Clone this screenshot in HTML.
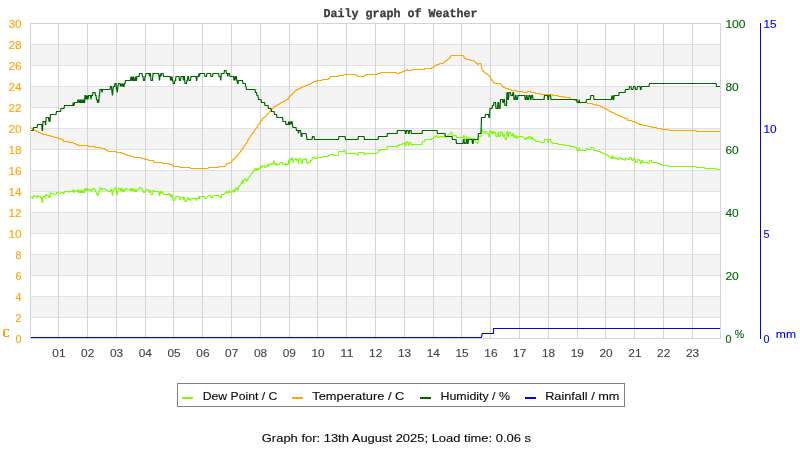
<!DOCTYPE html>
<html><head><meta charset="utf-8"><title>Daily graph of Weather</title>
<style>html,body{margin:0;padding:0;background:#fff;}svg{display:block;will-change:transform;}</style></head>
<body>
<svg width="800" height="450" viewBox="0 0 800 450">
<rect x="0" y="0" width="800" height="450" fill="#fff"/>
<g shape-rendering="crispEdges">
<rect x="30" y="44" width="690" height="21" fill="#f4f4f4"/>
<rect x="30" y="86" width="690" height="21" fill="#f4f4f4"/>
<rect x="30" y="128" width="690" height="21" fill="#f4f4f4"/>
<rect x="30" y="170" width="690" height="21" fill="#f4f4f4"/>
<rect x="30" y="212" width="690" height="21" fill="#f4f4f4"/>
<rect x="30" y="254" width="690" height="21" fill="#f4f4f4"/>
<rect x="30" y="296" width="690" height="21" fill="#f4f4f4"/>
<rect x="30" y="44" width="691" height="1" fill="#e1e1e1"/>
<rect x="30" y="65" width="691" height="1" fill="#e1e1e1"/>
<rect x="30" y="86" width="691" height="1" fill="#e1e1e1"/>
<rect x="30" y="107" width="691" height="1" fill="#e1e1e1"/>
<rect x="30" y="128" width="691" height="1" fill="#e1e1e1"/>
<rect x="30" y="149" width="691" height="1" fill="#e1e1e1"/>
<rect x="30" y="170" width="691" height="1" fill="#e1e1e1"/>
<rect x="30" y="191" width="691" height="1" fill="#e1e1e1"/>
<rect x="30" y="212" width="691" height="1" fill="#e1e1e1"/>
<rect x="30" y="233" width="691" height="1" fill="#e1e1e1"/>
<rect x="30" y="254" width="691" height="1" fill="#e1e1e1"/>
<rect x="30" y="275" width="691" height="1" fill="#e1e1e1"/>
<rect x="30" y="296" width="691" height="1" fill="#e1e1e1"/>
<rect x="30" y="317" width="691" height="1" fill="#e1e1e1"/>
<rect x="58" y="23" width="1" height="316" fill="#d4d4d4"/>
<rect x="87" y="23" width="1" height="316" fill="#d4d4d4"/>
<rect x="116" y="23" width="1" height="316" fill="#d4d4d4"/>
<rect x="145" y="23" width="1" height="316" fill="#d4d4d4"/>
<rect x="173" y="23" width="1" height="316" fill="#d4d4d4"/>
<rect x="202" y="23" width="1" height="316" fill="#d4d4d4"/>
<rect x="231" y="23" width="1" height="316" fill="#d4d4d4"/>
<rect x="260" y="23" width="1" height="316" fill="#d4d4d4"/>
<rect x="289" y="23" width="1" height="316" fill="#d4d4d4"/>
<rect x="317" y="23" width="1" height="316" fill="#d4d4d4"/>
<rect x="346" y="23" width="1" height="316" fill="#d4d4d4"/>
<rect x="375" y="23" width="1" height="316" fill="#d4d4d4"/>
<rect x="404" y="23" width="1" height="316" fill="#d4d4d4"/>
<rect x="433" y="23" width="1" height="316" fill="#d4d4d4"/>
<rect x="461" y="23" width="1" height="316" fill="#d4d4d4"/>
<rect x="490" y="23" width="1" height="316" fill="#d4d4d4"/>
<rect x="519" y="23" width="1" height="316" fill="#d4d4d4"/>
<rect x="548" y="23" width="1" height="316" fill="#d4d4d4"/>
<rect x="577" y="23" width="1" height="316" fill="#d4d4d4"/>
<rect x="605" y="23" width="1" height="316" fill="#d4d4d4"/>
<rect x="634" y="23" width="1" height="316" fill="#d4d4d4"/>
<rect x="663" y="23" width="1" height="316" fill="#d4d4d4"/>
<rect x="692" y="23" width="1" height="316" fill="#d4d4d4"/>
<rect x="30" y="23" width="691" height="1" fill="#d4d4d4"/>
<rect x="30" y="338" width="691" height="1" fill="#d4d4d4"/>
<rect x="30" y="23" width="1" height="316" fill="#d4d4d4"/>
<rect x="720" y="23" width="1" height="316" fill="#d4d4d4"/>
<rect x="760" y="23" width="1" height="316" fill="#0000ff"/>
</g>
<polyline points="31.0,196.5 31.5,197.5 32.5,197.5 33.0,198.5 33.5,195.5 34.0,195.5 34.5,196.5 36.0,196.5 36.5,197.5 37.0,197.5 37.5,195.5 38.0,195.5 38.5,196.5 40.0,196.5 40.5,197.5 41.5,197.5 42.0,202.5 42.5,202.5 43.0,196.5 45.0,196.5 45.5,198.5 46.0,194.5 46.5,194.5 47.0,195.5 48.5,195.5 49.0,197.5 49.5,195.5 50.0,197.5 50.5,192.5 51.0,193.5 54.0,193.5 54.5,194.5 56.0,194.5 56.5,192.5 57.5,192.5 58.0,193.5 60.5,193.5 61.0,192.5 63.0,192.5 63.5,193.5 64.0,193.5 64.5,191.5 68.5,191.5 69.0,192.5 69.5,191.5 72.5,191.5 73.0,189.5 73.5,192.5 74.0,192.5 74.5,190.5 75.5,190.5 76.0,191.5 77.5,191.5 78.0,189.5 78.5,192.5 79.0,190.5 79.5,192.5 80.0,192.5 80.5,190.5 81.0,192.5 81.5,192.5 82.0,190.5 82.5,192.5 83.0,192.5 83.5,190.5 84.0,192.5 84.5,192.5 85.0,188.5 85.5,188.5 86.0,190.5 86.5,188.5 87.0,190.5 87.5,188.5 88.0,190.5 88.5,189.5 90.5,189.5 91.0,191.5 91.5,189.5 92.5,189.5 93.0,188.5 94.5,188.5 95.0,189.5 95.5,191.5 96.0,191.5 96.5,193.5 97.0,193.5 97.5,195.5 98.0,195.5 98.5,193.5 99.0,191.5 99.5,191.5 100.0,187.5 100.5,187.5 101.0,188.5 101.5,188.5 102.0,190.5 102.5,188.5 104.5,188.5 105.0,189.5 106.0,189.5 106.5,190.5 107.5,190.5 108.0,191.5 110.0,191.5 110.5,189.5 111.5,189.5 112.0,193.5 112.5,195.5 113.0,191.5 113.5,189.5 114.5,189.5 115.0,187.5 116.0,187.5 116.5,192.5 117.0,192.5 117.5,194.5 118.0,190.5 118.5,188.5 120.0,188.5 120.5,190.5 121.0,188.5 121.5,190.5 122.0,188.5 122.5,191.5 123.0,189.5 123.5,191.5 124.0,191.5 124.5,189.5 125.0,190.5 125.5,188.5 127.0,188.5 127.5,189.5 130.0,189.5 130.5,190.5 131.0,188.5 131.5,190.5 132.0,188.5 132.5,190.5 133.0,190.5 133.5,188.5 134.0,191.5 135.0,191.5 135.5,189.5 136.0,191.5 136.5,191.5 137.0,189.5 139.0,189.5 139.5,187.5 141.0,187.5 141.5,188.5 142.0,188.5 142.5,190.5 143.0,190.5 143.5,192.5 144.5,192.5 145.0,191.5 145.5,191.5 146.0,189.5 148.0,189.5 148.5,190.5 149.0,190.5 149.5,192.5 150.0,190.5 150.5,190.5 151.0,194.5 152.5,194.5 153.0,190.5 153.5,190.5 154.0,191.5 158.5,191.5 159.0,193.5 159.5,195.5 160.0,193.5 160.5,191.5 161.0,193.5 161.5,191.5 162.0,191.5 162.5,192.5 163.0,192.5 163.5,194.5 168.0,194.5 168.5,193.5 169.0,193.5 169.5,194.5 170.0,194.5 170.5,196.5 171.0,194.5 171.5,196.5 172.0,194.5 172.5,197.5 173.0,199.5 173.5,200.5 174.5,200.5 175.0,198.5 175.5,198.5 176.0,196.5 179.0,196.5 179.5,198.5 180.0,199.5 180.5,199.5 181.0,197.5 183.0,197.5 183.5,199.5 184.0,197.5 184.5,197.5 185.0,201.5 186.5,201.5 187.0,199.5 187.5,199.5 188.0,197.5 188.5,197.5 189.0,199.5 190.0,199.5 190.5,200.5 191.0,198.5 196.0,198.5 196.5,200.5 197.0,198.5 198.5,198.5 199.0,196.5 199.5,198.5 200.0,196.5 204.5,196.5 205.0,198.5 206.5,198.5 207.0,196.5 208.0,196.5 208.5,195.5 210.5,195.5 211.0,197.5 212.5,197.5 213.0,195.5 218.5,195.5 219.0,196.5 220.5,196.5 221.0,198.5 221.5,194.5 224.0,194.5 224.5,193.5 225.0,193.5 225.5,192.5 226.0,191.5 226.5,192.5 227.0,191.5 227.5,191.5 228.0,193.5 228.5,191.5 229.0,191.5 229.5,190.5 230.0,192.5 231.5,192.5 232.0,191.5 232.5,191.5 233.0,190.5 233.5,190.5 234.0,192.5 234.5,189.5 235.0,191.5 235.5,188.5 236.0,188.5 236.5,187.5 237.0,188.5 237.5,190.5 238.0,189.5 238.5,187.5 239.0,186.5 239.5,185.5 240.0,185.5 240.5,184.5 241.0,183.5 241.5,183.5 242.0,181.5 242.5,180.5 243.0,183.5 243.5,181.5 244.0,180.5 244.5,179.5 245.0,179.5 245.5,178.5 246.0,179.5 246.5,181.5 247.0,180.5 247.5,179.5 248.0,178.5 248.5,178.5 249.0,177.5 249.5,176.5 250.0,176.5 250.5,175.5 251.0,174.5 251.5,173.5 252.0,173.5 252.5,172.5 253.0,171.5 253.5,171.5 254.0,170.5 254.5,169.5 255.0,168.5 255.5,170.5 256.0,169.5 256.5,168.5 257.0,170.5 257.5,169.5 258.0,168.5 258.5,169.5 259.0,169.5 259.5,168.5 260.0,167.5 260.5,166.5 261.0,165.5 261.5,167.5 262.0,167.5 262.5,166.5 263.0,166.5 263.5,165.5 264.5,165.5 265.0,167.5 266.0,167.5 266.5,166.5 267.0,165.5 267.5,165.5 268.0,164.5 268.5,166.5 269.0,165.5 269.5,164.5 270.0,164.5 270.5,163.5 271.0,163.5 271.5,164.5 272.0,164.5 272.5,163.5 273.0,163.5 273.5,162.5 274.0,160.5 274.5,164.5 275.5,164.5 276.0,163.5 276.5,163.5 277.0,165.5 277.5,164.5 279.0,164.5 279.5,163.5 280.5,163.5 281.0,162.5 282.5,162.5 283.0,164.5 284.5,164.5 285.0,163.5 285.5,163.5 286.0,165.5 286.5,164.5 288.0,164.5 288.5,160.5 289.0,163.5 289.5,162.5 290.0,159.5 290.5,160.5 291.0,158.5 291.5,159.5 292.0,157.5 292.5,158.5 293.0,162.5 293.5,160.5 294.0,160.5 294.5,159.5 295.0,159.5 295.5,158.5 296.0,158.5 296.5,160.5 297.0,159.5 298.0,159.5 298.5,163.5 299.0,158.5 300.5,158.5 301.0,160.5 301.5,163.5 302.0,163.5 302.5,160.5 303.0,159.5 305.0,159.5 305.5,158.5 306.0,158.5 306.5,160.5 307.0,163.5 307.5,163.5 308.0,162.5 310.0,162.5 310.5,160.5 311.5,160.5 312.0,159.5 312.5,157.5 313.5,157.5 314.0,156.5 314.5,158.5 316.0,158.5 316.5,157.5 322.0,157.5 322.5,156.5 328.0,156.5 328.5,155.5 329.5,155.5 330.0,154.5 333.0,154.5 333.5,155.5 338.5,155.5 339.0,151.5 343.5,151.5 344.0,150.5 345.0,150.5 345.5,153.5 356.0,153.5 356.5,154.5 357.5,154.5 358.0,155.5 358.5,152.5 364.0,152.5 364.5,154.5 365.5,154.5 366.0,153.5 377.0,153.5 377.5,152.5 378.0,152.5 378.5,150.5 380.5,150.5 381.0,149.5 387.0,149.5 387.5,146.5 396.5,146.5 397.0,147.5 397.5,145.5 399.0,145.5 399.5,144.5 402.0,144.5 402.5,143.5 404.5,143.5 405.0,142.5 405.5,145.5 406.0,145.5 406.5,142.5 407.0,141.5 407.5,141.5 408.0,142.5 408.5,145.5 409.0,145.5 409.5,142.5 411.0,142.5 411.5,145.5 412.0,144.5 422.0,144.5 422.5,141.5 424.5,141.5 425.0,139.5 431.5,139.5 432.0,138.5 433.5,138.5 434.0,137.5 434.5,137.5 435.0,136.5 436.0,136.5 436.5,135.5 437.0,135.5 437.5,137.5 439.0,137.5 439.5,136.5 442.5,136.5 443.0,137.5 443.5,136.5 444.0,136.5 444.5,135.5 445.0,135.5 445.5,137.5 446.0,136.5 447.0,136.5 447.5,135.5 448.0,135.5 448.5,134.5 449.5,134.5 450.0,133.5 450.5,133.5 451.0,132.5 452.0,132.5 452.5,135.5 456.0,135.5 456.5,137.5 463.0,137.5 463.5,135.5 464.0,135.5 464.5,138.5 465.0,139.5 466.0,139.5 466.5,136.5 467.0,137.5 467.5,141.5 468.0,141.5 468.5,137.5 470.0,137.5 470.5,138.5 472.0,138.5 472.5,142.5 473.0,142.5 473.5,138.5 474.0,138.5 474.5,139.5 475.0,139.5 475.5,141.5 476.0,141.5 476.5,142.5 477.0,142.5 477.5,143.5 478.0,143.5 478.5,136.5 481.0,136.5 481.5,128.5 482.0,130.5 482.5,131.5 483.0,131.5 483.5,132.5 484.0,132.5 484.5,133.5 485.0,133.5 485.5,131.5 486.5,131.5 487.0,132.5 487.5,133.5 488.0,133.5 488.5,134.5 489.0,136.5 489.5,137.5 490.0,130.5 490.5,131.5 491.0,131.5 491.5,132.5 492.0,133.5 492.5,131.5 493.0,132.5 493.5,133.5 494.0,131.5 494.5,131.5 495.0,132.5 495.5,132.5 496.0,136.5 497.5,136.5 498.0,132.5 498.5,132.5 499.0,136.5 500.0,136.5 500.5,131.5 501.0,131.5 501.5,132.5 502.0,132.5 502.5,133.5 503.0,135.5 503.5,136.5 504.0,134.5 504.5,134.5 505.0,138.5 505.5,139.5 506.5,139.5 507.0,131.5 507.5,131.5 508.0,135.5 508.5,136.5 509.0,132.5 510.5,132.5 511.0,134.5 511.5,135.5 512.5,135.5 513.0,133.5 513.5,133.5 514.0,137.5 515.0,137.5 515.5,135.5 516.0,135.5 516.5,137.5 517.0,138.5 517.5,138.5 518.0,136.5 522.5,136.5 523.0,137.5 524.5,137.5 525.0,139.5 526.0,139.5 526.5,137.5 527.0,137.5 527.5,138.5 528.5,138.5 529.0,136.5 530.0,136.5 530.5,138.5 531.0,139.5 531.5,137.5 532.5,137.5 533.0,139.5 535.0,139.5 535.5,141.5 540.5,141.5 541.0,142.5 544.0,142.5 544.5,139.5 547.5,139.5 548.0,142.5 548.5,142.5 549.0,139.5 550.5,139.5 551.0,142.5 552.5,142.5 553.0,143.5 558.0,143.5 558.5,144.5 564.0,144.5 564.5,145.5 570.0,145.5 570.5,146.5 574.0,146.5 574.5,147.5 576.5,147.5 577.0,150.5 578.5,150.5 579.0,147.5 579.5,150.5 586.0,150.5 586.5,148.5 587.0,148.5 587.5,149.5 590.5,149.5 591.0,147.5 593.5,147.5 594.0,150.5 597.0,150.5 597.5,151.5 600.5,151.5 601.0,152.5 602.5,152.5 603.0,153.5 605.0,153.5 605.5,154.5 607.0,154.5 607.5,155.5 608.5,155.5 609.0,156.5 609.5,156.5 610.0,157.5 611.0,157.5 611.5,158.5 612.0,155.5 612.5,158.5 613.0,156.5 613.5,158.5 614.0,157.5 615.5,157.5 616.0,158.5 617.5,158.5 618.0,159.5 618.5,159.5 619.0,157.5 620.0,157.5 620.5,158.5 622.0,158.5 622.5,159.5 624.5,159.5 625.0,160.5 625.5,158.5 627.5,158.5 628.0,159.5 629.0,159.5 629.5,157.5 631.0,157.5 631.5,159.5 632.0,159.5 632.5,160.5 633.0,160.5 633.5,158.5 635.0,158.5 635.5,162.5 637.0,162.5 637.5,159.5 639.0,159.5 639.5,160.5 640.0,160.5 640.5,163.5 641.0,163.5 641.5,160.5 642.5,160.5 643.0,162.5 647.5,162.5 648.0,163.5 649.0,163.5 649.5,160.5 651.5,160.5 652.0,162.5 656.5,162.5 657.0,163.5 659.5,163.5 660.0,164.5 661.5,164.5 662.0,165.5 668.5,165.5 669.0,166.5 696.0,166.5 696.5,167.5 704.5,167.5 705.0,168.5 716.0,168.5 716.5,169.5 720.0,169.5" fill="none" stroke="#7cfc00" stroke-width="1.15" stroke-linejoin="round" />
<polyline points="31.0,127.5 31.5,128.5 32.5,128.5 33.0,129.5 34.0,129.5 34.5,130.5 36.0,130.5 36.5,131.5 38.0,131.5 38.5,132.5 40.0,132.5 40.5,133.5 42.5,133.5 43.0,134.5 46.5,134.5 47.0,135.5 50.5,135.5 51.0,136.5 54.0,136.5 54.5,137.5 57.5,137.5 58.0,138.5 60.5,138.5 61.0,139.5 63.0,139.5 63.5,141.5 68.5,141.5 69.0,142.5 73.0,142.5 73.5,143.5 75.5,143.5 76.0,144.5 78.0,144.5 78.5,145.5 88.0,145.5 88.5,146.5 94.5,146.5 95.0,147.5 100.5,147.5 101.0,148.5 104.5,148.5 105.0,149.5 106.0,149.5 106.5,150.5 107.5,150.5 108.0,151.5 116.0,151.5 116.5,152.5 122.0,152.5 122.5,153.5 124.5,153.5 125.0,154.5 127.0,154.5 127.5,155.5 130.0,155.5 130.5,156.5 133.5,156.5 134.0,157.5 141.0,157.5 141.5,158.5 144.5,158.5 145.0,159.5 148.0,159.5 148.5,160.5 153.5,160.5 154.0,162.5 162.0,162.5 162.5,163.5 169.0,163.5 169.5,164.5 172.0,164.5 172.5,165.5 173.0,165.5 173.5,166.5 179.5,166.5 180.0,167.5 190.0,167.5 190.5,168.5 208.0,168.5 208.5,167.5 218.5,167.5 219.0,166.5 225.0,166.5 225.5,165.5 226.0,164.5 226.5,164.5 227.0,163.5 229.0,163.5 229.5,162.5 231.5,162.5 232.0,160.5 232.5,160.5 233.0,159.5 234.0,159.5 234.5,158.5 235.0,158.5 235.5,157.5 236.0,157.5 236.5,156.5 237.0,155.5 237.5,155.5 238.0,154.5 238.5,154.5 239.0,153.5 239.5,152.5 240.0,152.5 240.5,151.5 241.0,150.5 241.5,150.5 242.0,149.5 242.5,148.5 243.0,148.5 243.5,147.5 244.0,146.5 244.5,145.5 245.0,145.5 245.5,144.5 246.0,143.5 246.5,143.5 247.0,142.5 247.5,141.5 248.0,139.5 248.5,139.5 249.0,138.5 249.5,137.5 250.0,137.5 250.5,136.5 251.0,135.5 251.5,134.5 252.0,134.5 252.5,133.5 253.0,132.5 253.5,132.5 254.0,131.5 254.5,130.5 255.0,129.5 255.5,129.5 256.0,128.5 256.5,127.5 257.0,127.5 257.5,126.5 258.0,125.5 258.5,124.5 259.0,124.5 259.5,123.5 260.0,122.5 260.5,121.5 261.0,120.5 262.0,120.5 262.5,118.5 263.0,118.5 263.5,117.5 264.5,117.5 265.0,116.5 266.0,116.5 266.5,115.5 267.0,114.5 267.5,114.5 268.0,113.5 268.5,113.5 269.0,112.5 269.5,111.5 270.0,111.5 270.5,110.5 271.0,110.5 271.5,109.5 272.0,109.5 272.5,108.5 273.0,108.5 273.5,107.5 274.0,106.5 275.5,106.5 276.0,105.5 277.0,105.5 277.5,104.5 279.0,104.5 279.5,103.5 280.5,103.5 281.0,102.5 282.5,102.5 283.0,101.5 284.5,101.5 285.0,100.5 286.0,100.5 286.5,99.5 288.0,99.5 288.5,97.5 289.0,97.5 289.5,96.5 290.0,96.5 290.5,95.5 291.0,95.5 291.5,94.5 292.0,94.5 292.5,93.5 293.0,93.5 293.5,92.5 294.0,92.5 294.5,91.5 295.0,91.5 295.5,90.5 296.5,90.5 297.0,89.5 298.5,89.5 299.0,88.5 300.5,88.5 301.0,87.5 302.5,87.5 303.0,86.5 305.0,86.5 305.5,85.5 307.5,85.5 308.0,84.5 310.0,84.5 310.5,83.5 311.5,83.5 312.0,82.5 313.5,82.5 314.0,81.5 316.0,81.5 316.5,80.5 322.0,80.5 322.5,79.5 328.0,79.5 328.5,78.5 329.5,78.5 330.0,76.5 338.5,76.5 339.0,75.5 343.5,75.5 344.0,74.5 356.0,74.5 356.5,75.5 357.5,75.5 358.0,76.5 364.0,76.5 364.5,75.5 365.5,75.5 366.0,74.5 377.0,74.5 377.5,73.5 380.5,73.5 381.0,72.5 396.5,72.5 397.0,73.5 399.0,73.5 399.5,72.5 402.0,72.5 402.5,71.5 404.5,71.5 405.0,70.5 406.5,70.5 407.0,69.5 407.5,69.5 408.0,70.5 411.5,70.5 412.0,69.5 424.5,69.5 425.0,68.5 431.5,68.5 432.0,67.5 433.5,67.5 434.0,66.5 434.5,66.5 435.0,65.5 436.0,65.5 436.5,64.5 439.0,64.5 439.5,63.5 443.0,63.5 443.5,62.5 444.0,62.5 444.5,61.5 445.5,61.5 446.0,60.5 447.0,60.5 447.5,59.5 448.0,59.5 448.5,58.5 449.5,58.5 450.0,57.5 450.5,57.5 451.0,55.5 463.5,55.5 464.0,57.5 464.5,57.5 465.0,58.5 466.5,58.5 467.0,59.5 470.0,59.5 470.5,60.5 474.0,60.5 474.5,61.5 475.0,61.5 475.5,62.5 476.0,62.5 476.5,63.5 477.0,63.5 477.5,64.5 478.0,64.5 478.5,63.5 481.0,63.5 481.5,67.5 482.0,69.5 482.5,70.5 483.0,70.5 483.5,71.5 484.0,71.5 484.5,72.5 485.0,72.5 485.5,73.5 486.5,73.5 487.0,74.5 488.0,74.5 488.5,75.5 489.0,75.5 489.5,76.5 490.0,76.5 490.5,78.5 491.0,78.5 491.5,79.5 492.0,80.5 492.5,80.5 493.0,81.5 493.5,82.5 494.5,82.5 495.0,83.5 500.0,83.5 500.5,84.5 501.0,84.5 501.5,85.5 502.0,85.5 502.5,86.5 503.0,86.5 503.5,87.5 505.0,87.5 505.5,88.5 508.0,88.5 508.5,89.5 511.0,89.5 511.5,90.5 516.5,90.5 517.0,91.5 522.5,91.5 523.0,92.5 527.0,92.5 527.5,91.5 530.5,91.5 531.0,92.5 535.0,92.5 535.5,93.5 540.5,93.5 541.0,94.5 552.5,94.5 553.0,95.5 558.0,95.5 558.5,96.5 564.0,96.5 564.5,97.5 570.0,97.5 570.5,99.5 574.0,99.5 574.5,100.5 576.5,100.5 577.0,101.5 579.0,101.5 579.5,102.5 587.0,102.5 587.5,103.5 592.5,103.5 593.0,104.5 596.5,104.5 597.0,105.5 600.0,105.5 600.5,106.5 602.5,106.5 603.0,107.5 604.0,107.5 604.5,108.5 606.0,108.5 606.5,109.5 607.5,109.5 608.0,110.5 609.0,110.5 609.5,111.5 611.0,111.5 611.5,112.5 613.5,112.5 614.0,113.5 615.5,113.5 616.0,114.5 617.5,114.5 618.0,115.5 620.0,115.5 620.5,116.5 622.0,116.5 622.5,117.5 624.5,117.5 625.0,118.5 627.5,118.5 628.0,120.5 632.0,120.5 632.5,121.5 635.0,121.5 635.5,122.5 637.0,122.5 637.5,123.5 639.0,123.5 639.5,124.5 642.5,124.5 643.0,125.5 647.5,125.5 648.0,126.5 651.5,126.5 652.0,127.5 656.5,127.5 657.0,128.5 661.5,128.5 662.0,129.5 668.5,129.5 669.0,130.5 696.0,130.5 696.5,131.5 720.0,131.5" fill="none" stroke="#ffa500" stroke-width="1.15" stroke-linejoin="round" />
<polyline points="31.0,130.5 33.0,130.5 33.5,127.5 37.0,127.5 37.5,124.5 41.7,124.5 42.2,130.5 42.5,130.5 43.0,121.5 45.0,121.5 45.5,124.5 45.7,124.5 46.2,117.5 48.5,117.5 49.0,121.5 49.0,121.5 49.5,117.5 49.5,117.5 49.8,121.5 50.0,121.5 50.5,114.5 56.0,114.5 56.5,111.5 60.5,111.5 61.0,108.5 64.0,108.5 64.5,105.5 72.7,105.5 73.2,102.5 73.2,102.5 73.7,105.5 74.0,105.5 74.5,102.5 77.5,102.5 78.0,99.5 78.0,99.5 78.5,102.5 78.5,102.5 79.0,99.5 79.0,99.5 79.5,102.5 80.0,102.5 80.5,99.5 80.5,99.5 81.0,102.5 81.5,102.5 82.0,99.5 82.0,99.5 82.5,102.5 83.0,102.5 83.5,99.5 83.5,99.5 84.0,102.5 84.5,102.5 85.0,95.5 85.5,95.5 86.0,99.5 86.0,99.5 86.5,95.5 86.5,95.5 87.0,99.5 87.0,99.5 87.5,95.5 87.5,95.5 88.0,99.5 88.0,99.5 88.5,95.5 90.5,95.5 91.0,99.5 91.0,99.5 91.5,95.5 92.5,95.5 93.0,92.5 95.0,92.5 95.5,95.5 96.0,95.5 96.5,99.5 97.0,99.5 97.5,102.5 98.0,102.5 98.5,99.5 98.5,99.5 98.8,102.5 98.8,102.5 99.2,95.5 99.5,95.5 100.0,89.5 101.5,89.5 102.0,92.5 102.0,92.5 102.5,89.5 110.0,89.5 110.5,86.5 111.5,86.5 112.0,92.5 112.0,92.5 112.5,95.5 112.5,95.5 113.0,89.5 113.0,89.5 113.5,86.5 114.5,86.5 115.0,83.5 116.0,83.5 116.5,89.5 116.8,89.5 117.3,92.5 117.3,92.5 117.8,86.5 118.0,86.5 118.5,83.5 120.0,83.5 120.5,86.5 120.5,86.5 121.0,83.5 121.0,83.5 121.5,86.5 121.5,86.5 122.0,83.5 122.0,83.5 122.5,86.5 122.5,86.5 123.0,83.5 123.0,83.5 123.5,86.5 124.0,86.5 124.5,83.5 125.0,83.5 125.5,80.5 130.5,80.5 131.0,76.5 131.0,76.5 131.5,80.5 131.5,80.5 132.0,76.5 132.0,76.5 132.5,80.5 133.0,80.5 133.5,76.5 133.5,76.5 134.0,80.5 135.0,80.5 135.5,76.5 135.5,76.5 136.0,80.5 136.5,80.5 137.0,76.5 139.0,76.5 139.5,73.5 142.0,73.5 142.5,76.5 143.0,76.5 143.5,80.5 144.5,80.5 145.0,76.5 145.5,76.5 146.0,73.5 149.0,73.5 149.5,76.5 149.5,76.5 150.0,73.5 150.5,73.5 151.0,80.5 152.5,80.5 153.0,73.5 158.5,73.5 159.0,76.5 159.0,76.5 159.5,80.5 159.5,80.5 160.0,76.5 160.0,76.5 160.5,73.5 160.5,73.5 161.0,76.5 161.0,76.5 161.5,73.5 163.0,73.5 163.5,76.5 170.0,76.5 170.5,80.5 170.5,80.5 171.0,76.5 171.0,76.5 171.5,80.5 171.5,80.5 172.0,76.5 172.0,76.5 172.5,80.5 172.7,80.5 173.2,83.5 174.5,83.5 175.0,80.5 175.5,80.5 176.0,76.5 179.0,76.5 179.5,80.5 180.5,80.5 181.0,76.5 183.0,76.5 183.5,80.5 183.5,80.5 184.0,76.5 184.5,76.5 185.0,83.5 186.5,83.5 187.0,80.5 187.3,80.5 187.8,76.5 188.5,76.5 189.0,80.5 190.5,80.5 191.0,76.5 196.0,76.5 196.5,80.5 196.7,80.5 197.2,76.5 198.5,76.5 199.0,73.5 199.0,73.5 199.5,76.5 199.5,76.5 200.0,73.5 204.5,73.5 205.0,76.5 206.5,76.5 207.0,73.5 210.5,73.5 211.0,76.5 212.5,76.5 213.0,73.5 218.5,73.5 219.0,76.5 220.3,76.5 220.8,80.5 220.8,80.5 221.3,73.5 224.0,73.5 224.5,70.5 226.0,70.5 226.5,73.5 227.3,73.5 227.8,76.5 227.8,76.5 228.3,73.5 229.5,73.5 230.0,76.5 233.5,76.5 234.0,80.5 234.0,80.5 234.5,76.5 234.5,76.5 235.0,80.5 235.0,80.5 235.5,76.5 236.3,76.5 236.8,80.5 237.0,80.5 237.5,83.5 238.0,83.5 238.5,80.5 242.5,80.5 243.0,83.5 245.3,83.5 245.8,86.5 246.0,86.5 246.5,89.5 255.0,89.5 255.5,92.5 256.5,92.5 257.0,95.5 258.0,95.5 258.5,99.5 261.0,99.5 261.5,102.5 264.5,102.5 265.0,105.5 268.0,105.5 268.5,108.5 271.0,108.5 271.5,111.5 274.0,111.5 274.5,114.5 276.5,114.5 277.0,117.5 282.5,117.5 283.0,121.5 285.5,121.5 286.0,124.5 288.0,124.5 288.5,121.5 288.5,121.5 289.0,124.5 289.3,124.5 289.8,121.5 289.8,121.5 290.3,124.5 290.3,124.5 290.8,121.5 290.8,121.5 291.3,124.5 291.3,124.5 291.8,121.5 292.0,121.5 292.5,124.5 292.5,124.5 293.0,127.5 296.0,127.5 296.5,130.5 298.0,130.5 298.5,133.5 298.5,133.5 299.0,130.5 300.5,130.5 301.0,133.5 301.0,133.5 301.3,136.5 301.8,136.5 302.3,133.5 306.0,133.5 306.5,136.5 306.5,136.5 307.0,139.5 312.0,139.5 312.5,136.5 314.0,136.5 314.5,139.5 338.5,139.5 339.0,136.5 345.0,136.5 345.5,139.5 358.0,139.5 358.5,136.5 364.0,136.5 364.5,139.5 378.0,139.5 378.5,136.5 387.0,136.5 387.5,133.5 397.0,133.5 397.5,130.5 405.0,130.5 405.5,133.5 406.0,133.5 406.5,130.5 408.0,130.5 408.5,133.5 409.0,133.5 409.5,130.5 411.0,130.5 411.5,133.5 422.0,133.5 422.5,130.5 437.0,130.5 437.5,133.5 445.0,133.5 445.5,136.5 452.0,136.5 452.5,139.5 456.0,139.5 456.5,143.5 463.0,143.5 463.5,139.5 464.0,139.5 464.5,143.5 466.0,143.5 466.5,139.5 467.0,139.5 467.5,143.5 468.0,143.5 468.5,139.5 472.0,139.5 472.5,143.5 473.0,143.5 473.5,139.5 478.0,139.5 478.5,133.5 481.0,133.5 481.5,117.5 485.0,117.5 485.5,114.5 488.5,114.5 489.0,117.5 489.5,117.5 490.0,108.5 492.0,108.5 492.5,105.5 493.5,105.5 494.0,102.5 495.5,102.5 496.0,108.5 497.5,108.5 498.0,102.5 498.5,102.5 499.0,108.5 500.0,108.5 500.5,99.5 502.5,99.5 503.0,102.5 503.5,102.5 504.0,99.5 504.5,99.5 505.0,105.5 506.5,105.5 507.0,92.5 507.5,92.5 508.0,99.5 508.5,99.5 509.0,92.5 510.5,92.5 511.0,95.5 512.5,95.5 513.0,92.5 513.5,92.5 514.0,99.5 515.0,99.5 515.5,95.5 516.0,95.5 516.5,99.5 517.5,99.5 518.0,95.5 524.7,95.5 525.2,99.5 526.0,99.5 526.5,95.5 527.0,95.5 527.5,99.5 528.5,99.5 529.0,95.5 530.0,95.5 530.5,99.5 531.0,99.5 531.5,95.5 532.5,95.5 533.0,99.5 544.0,99.5 544.5,95.5 547.5,95.5 548.0,99.5 548.5,99.5 549.0,95.5 550.5,95.5 551.0,99.5 576.7,99.5 577.2,102.5 578.6,102.5 579.1,99.5 579.1,99.5 579.6,102.5 586.0,102.5 586.5,99.5 590.3,99.5 590.8,95.5 593.5,95.5 594.0,99.5 611.5,99.5 612.0,95.5 612.0,95.5 612.5,99.5 612.5,99.5 613.0,95.5 613.0,95.5 613.5,99.5 613.7,99.5 614.2,95.5 618.7,95.5 619.2,92.5 625.0,92.5 625.5,89.5 629.0,89.5 629.5,86.5 631.0,86.5 631.5,89.5 633.0,89.5 633.5,86.5 635.0,86.5 635.5,89.5 637.0,89.5 637.5,86.5 640.0,86.5 640.5,89.5 641.0,89.5 641.5,86.5 649.0,86.5 649.5,83.5 716.0,83.5 716.5,86.5 720.0,86.5" fill="none" stroke="#006400" stroke-width="1.2" stroke-linejoin="miter" stroke-miterlimit="2"/>
<polyline points="31.0,337.5 481.3,337.5 482.3,333.5 493.5,333.5 493.5,328.5 720.0,328.5" fill="none" stroke="#0000ff" stroke-width="1.1" stroke-linejoin="round" />
<g>
<text x="8.400000000000002" y="28" font-size="11" fill="#ffa500" stroke="#ffa500" stroke-width="0.12" text-anchor="start" font-family="Liberation Sans, sans-serif" textLength="13.2" lengthAdjust="spacingAndGlyphs" >30</text>
<text x="8.400000000000002" y="49" font-size="11" fill="#ffa500" stroke="#ffa500" stroke-width="0.12" text-anchor="start" font-family="Liberation Sans, sans-serif" textLength="13.2" lengthAdjust="spacingAndGlyphs" >28</text>
<text x="8.400000000000002" y="70" font-size="11" fill="#ffa500" stroke="#ffa500" stroke-width="0.12" text-anchor="start" font-family="Liberation Sans, sans-serif" textLength="13.2" lengthAdjust="spacingAndGlyphs" >26</text>
<text x="8.400000000000002" y="91" font-size="11" fill="#ffa500" stroke="#ffa500" stroke-width="0.12" text-anchor="start" font-family="Liberation Sans, sans-serif" textLength="13.2" lengthAdjust="spacingAndGlyphs" >24</text>
<text x="8.400000000000002" y="112" font-size="11" fill="#ffa500" stroke="#ffa500" stroke-width="0.12" text-anchor="start" font-family="Liberation Sans, sans-serif" textLength="13.2" lengthAdjust="spacingAndGlyphs" >22</text>
<text x="8.400000000000002" y="133" font-size="11" fill="#ffa500" stroke="#ffa500" stroke-width="0.12" text-anchor="start" font-family="Liberation Sans, sans-serif" textLength="13.2" lengthAdjust="spacingAndGlyphs" >20</text>
<text x="8.400000000000002" y="154" font-size="11" fill="#ffa500" stroke="#ffa500" stroke-width="0.12" text-anchor="start" font-family="Liberation Sans, sans-serif" textLength="13.2" lengthAdjust="spacingAndGlyphs" >18</text>
<text x="8.400000000000002" y="175" font-size="11" fill="#ffa500" stroke="#ffa500" stroke-width="0.12" text-anchor="start" font-family="Liberation Sans, sans-serif" textLength="13.2" lengthAdjust="spacingAndGlyphs" >16</text>
<text x="8.400000000000002" y="196" font-size="11" fill="#ffa500" stroke="#ffa500" stroke-width="0.12" text-anchor="start" font-family="Liberation Sans, sans-serif" textLength="13.2" lengthAdjust="spacingAndGlyphs" >14</text>
<text x="8.400000000000002" y="217" font-size="11" fill="#ffa500" stroke="#ffa500" stroke-width="0.12" text-anchor="start" font-family="Liberation Sans, sans-serif" textLength="13.2" lengthAdjust="spacingAndGlyphs" >12</text>
<text x="8.400000000000002" y="238" font-size="11" fill="#ffa500" stroke="#ffa500" stroke-width="0.12" text-anchor="start" font-family="Liberation Sans, sans-serif" textLength="13.2" lengthAdjust="spacingAndGlyphs" >10</text>
<text x="15.600000000000001" y="259" font-size="11" fill="#ffa500" stroke="#ffa500" stroke-width="0.12" text-anchor="start" font-family="Liberation Sans, sans-serif" textLength="6.0" lengthAdjust="spacingAndGlyphs" >8</text>
<text x="15.600000000000001" y="280" font-size="11" fill="#ffa500" stroke="#ffa500" stroke-width="0.12" text-anchor="start" font-family="Liberation Sans, sans-serif" textLength="6.0" lengthAdjust="spacingAndGlyphs" >6</text>
<text x="15.600000000000001" y="301" font-size="11" fill="#ffa500" stroke="#ffa500" stroke-width="0.12" text-anchor="start" font-family="Liberation Sans, sans-serif" textLength="6.0" lengthAdjust="spacingAndGlyphs" >4</text>
<text x="15.600000000000001" y="322" font-size="11" fill="#ffa500" stroke="#ffa500" stroke-width="0.12" text-anchor="start" font-family="Liberation Sans, sans-serif" textLength="6.0" lengthAdjust="spacingAndGlyphs" >2</text>
<text x="15.600000000000001" y="343" font-size="11" fill="#ffa500" stroke="#ffa500" stroke-width="0.12" text-anchor="start" font-family="Liberation Sans, sans-serif" textLength="6.0" lengthAdjust="spacingAndGlyphs" >0</text>
<text x="725.4" y="28" font-size="11" fill="#006400" stroke="#006400" stroke-width="0.12" text-anchor="start" font-family="Liberation Sans, sans-serif" textLength="20.2" lengthAdjust="spacingAndGlyphs" >100</text>
<text x="725.4" y="91" font-size="11" fill="#006400" stroke="#006400" stroke-width="0.12" text-anchor="start" font-family="Liberation Sans, sans-serif" textLength="13.3" lengthAdjust="spacingAndGlyphs" >80</text>
<text x="725.4" y="154" font-size="11" fill="#006400" stroke="#006400" stroke-width="0.12" text-anchor="start" font-family="Liberation Sans, sans-serif" textLength="13.3" lengthAdjust="spacingAndGlyphs" >60</text>
<text x="725.4" y="217" font-size="11" fill="#006400" stroke="#006400" stroke-width="0.12" text-anchor="start" font-family="Liberation Sans, sans-serif" textLength="13.3" lengthAdjust="spacingAndGlyphs" >40</text>
<text x="725.4" y="280" font-size="11" fill="#006400" stroke="#006400" stroke-width="0.12" text-anchor="start" font-family="Liberation Sans, sans-serif" textLength="13.3" lengthAdjust="spacingAndGlyphs" >20</text>
<text x="725.4" y="343" font-size="11" fill="#006400" stroke="#006400" stroke-width="0.12" text-anchor="start" font-family="Liberation Sans, sans-serif" textLength="6.0" lengthAdjust="spacingAndGlyphs" >0</text>
<text x="763.5" y="28" font-size="11" fill="#0000ff" stroke="#0000ff" stroke-width="0.12" text-anchor="start" font-family="Liberation Sans, sans-serif" textLength="13.2" lengthAdjust="spacingAndGlyphs" >15</text>
<text x="763.5" y="133" font-size="11" fill="#0000ff" stroke="#0000ff" stroke-width="0.12" text-anchor="start" font-family="Liberation Sans, sans-serif" textLength="13.2" lengthAdjust="spacingAndGlyphs" >10</text>
<text x="763.5" y="238" font-size="11" fill="#0000ff" stroke="#0000ff" stroke-width="0.12" text-anchor="start" font-family="Liberation Sans, sans-serif" textLength="6.0" lengthAdjust="spacingAndGlyphs" >5</text>
<text x="763.5" y="343" font-size="11" fill="#0000ff" stroke="#0000ff" stroke-width="0.12" text-anchor="start" font-family="Liberation Sans, sans-serif" textLength="6.0" lengthAdjust="spacingAndGlyphs" >0</text>
<text x="734.8" y="338" font-size="11" fill="#006400" stroke="#006400" stroke-width="0.12" text-anchor="start" font-family="Liberation Sans, sans-serif" textLength="9.4" lengthAdjust="spacingAndGlyphs" >%</text>
<text x="775.8" y="338" font-size="11" fill="#0000ff" stroke="#0000ff" stroke-width="0.12" text-anchor="start" font-family="Liberation Sans, sans-serif" textLength="20.2" lengthAdjust="spacingAndGlyphs" >mm</text>
<g shape-rendering="crispEdges" fill="#ffa500">
<rect x="3" y="330" width="2" height="6"/><rect x="4" y="329" width="5" height="1"/><rect x="4" y="336" width="5" height="1"/><rect x="8" y="330" width="1" height="1"/><rect x="8" y="335" width="1" height="1"/>
</g>
<text x="52.3" y="357" font-size="11" fill="#444" stroke="#444" stroke-width="0.12" text-anchor="start" font-family="Liberation Sans, sans-serif" textLength="13.2" lengthAdjust="spacingAndGlyphs" >01</text>
<text x="81.1" y="357" font-size="11" fill="#444" stroke="#444" stroke-width="0.12" text-anchor="start" font-family="Liberation Sans, sans-serif" textLength="13.2" lengthAdjust="spacingAndGlyphs" >02</text>
<text x="109.9" y="357" font-size="11" fill="#444" stroke="#444" stroke-width="0.12" text-anchor="start" font-family="Liberation Sans, sans-serif" textLength="13.2" lengthAdjust="spacingAndGlyphs" >03</text>
<text x="138.7" y="357" font-size="11" fill="#444" stroke="#444" stroke-width="0.12" text-anchor="start" font-family="Liberation Sans, sans-serif" textLength="13.2" lengthAdjust="spacingAndGlyphs" >04</text>
<text x="167.5" y="357" font-size="11" fill="#444" stroke="#444" stroke-width="0.12" text-anchor="start" font-family="Liberation Sans, sans-serif" textLength="13.2" lengthAdjust="spacingAndGlyphs" >05</text>
<text x="196.3" y="357" font-size="11" fill="#444" stroke="#444" stroke-width="0.12" text-anchor="start" font-family="Liberation Sans, sans-serif" textLength="13.2" lengthAdjust="spacingAndGlyphs" >06</text>
<text x="225.1" y="357" font-size="11" fill="#444" stroke="#444" stroke-width="0.12" text-anchor="start" font-family="Liberation Sans, sans-serif" textLength="13.2" lengthAdjust="spacingAndGlyphs" >07</text>
<text x="253.9" y="357" font-size="11" fill="#444" stroke="#444" stroke-width="0.12" text-anchor="start" font-family="Liberation Sans, sans-serif" textLength="13.2" lengthAdjust="spacingAndGlyphs" >08</text>
<text x="282.7" y="357" font-size="11" fill="#444" stroke="#444" stroke-width="0.12" text-anchor="start" font-family="Liberation Sans, sans-serif" textLength="13.2" lengthAdjust="spacingAndGlyphs" >09</text>
<text x="311.5" y="357" font-size="11" fill="#444" stroke="#444" stroke-width="0.12" text-anchor="start" font-family="Liberation Sans, sans-serif" textLength="13.2" lengthAdjust="spacingAndGlyphs" >10</text>
<text x="340.3" y="357" font-size="11" fill="#444" stroke="#444" stroke-width="0.12" text-anchor="start" font-family="Liberation Sans, sans-serif" textLength="13.2" lengthAdjust="spacingAndGlyphs" >11</text>
<text x="369.1" y="357" font-size="11" fill="#444" stroke="#444" stroke-width="0.12" text-anchor="start" font-family="Liberation Sans, sans-serif" textLength="13.2" lengthAdjust="spacingAndGlyphs" >12</text>
<text x="397.9" y="357" font-size="11" fill="#444" stroke="#444" stroke-width="0.12" text-anchor="start" font-family="Liberation Sans, sans-serif" textLength="13.2" lengthAdjust="spacingAndGlyphs" >13</text>
<text x="426.7" y="357" font-size="11" fill="#444" stroke="#444" stroke-width="0.12" text-anchor="start" font-family="Liberation Sans, sans-serif" textLength="13.2" lengthAdjust="spacingAndGlyphs" >14</text>
<text x="455.5" y="357" font-size="11" fill="#444" stroke="#444" stroke-width="0.12" text-anchor="start" font-family="Liberation Sans, sans-serif" textLength="13.2" lengthAdjust="spacingAndGlyphs" >15</text>
<text x="484.3" y="357" font-size="11" fill="#444" stroke="#444" stroke-width="0.12" text-anchor="start" font-family="Liberation Sans, sans-serif" textLength="13.2" lengthAdjust="spacingAndGlyphs" >16</text>
<text x="513.1" y="357" font-size="11" fill="#444" stroke="#444" stroke-width="0.12" text-anchor="start" font-family="Liberation Sans, sans-serif" textLength="13.2" lengthAdjust="spacingAndGlyphs" >17</text>
<text x="541.9" y="357" font-size="11" fill="#444" stroke="#444" stroke-width="0.12" text-anchor="start" font-family="Liberation Sans, sans-serif" textLength="13.2" lengthAdjust="spacingAndGlyphs" >18</text>
<text x="570.7" y="357" font-size="11" fill="#444" stroke="#444" stroke-width="0.12" text-anchor="start" font-family="Liberation Sans, sans-serif" textLength="13.2" lengthAdjust="spacingAndGlyphs" >19</text>
<text x="599.5" y="357" font-size="11" fill="#444" stroke="#444" stroke-width="0.12" text-anchor="start" font-family="Liberation Sans, sans-serif" textLength="13.2" lengthAdjust="spacingAndGlyphs" >20</text>
<text x="628.3" y="357" font-size="11" fill="#444" stroke="#444" stroke-width="0.12" text-anchor="start" font-family="Liberation Sans, sans-serif" textLength="13.2" lengthAdjust="spacingAndGlyphs" >21</text>
<text x="657.1" y="357" font-size="11" fill="#444" stroke="#444" stroke-width="0.12" text-anchor="start" font-family="Liberation Sans, sans-serif" textLength="13.2" lengthAdjust="spacingAndGlyphs" >22</text>
<text x="685.9" y="357" font-size="11" fill="#444" stroke="#444" stroke-width="0.12" text-anchor="start" font-family="Liberation Sans, sans-serif" textLength="13.2" lengthAdjust="spacingAndGlyphs" >23</text>
<text x="323.5" y="17" text-rendering="geometricPrecision" font-size="12" font-weight="bold" fill="#3c3c3c" stroke="#3c3c3c" stroke-width="0.3" font-family="Liberation Mono, monospace" textLength="154" lengthAdjust="spacingAndGlyphs">Daily graph of Weather</text>
<rect x="177.5" y="383.5" width="447" height="23" fill="#fff" stroke="#808080" stroke-width="1"/>
<rect x="182" y="397" width="11" height="2" fill="#7cfc00" shape-rendering="crispEdges"/>
<rect x="292" y="397" width="11" height="2" fill="#ffa500" shape-rendering="crispEdges"/>
<rect x="420" y="397" width="11" height="2" fill="#006400" shape-rendering="crispEdges"/>
<rect x="525" y="397" width="11" height="2" fill="#0000ff" shape-rendering="crispEdges"/>
<text x="202.7" y="400" font-size="11" fill="#0a0a0a" stroke="#0a0a0a" stroke-width="0.12" text-anchor="start" font-family="Liberation Sans, sans-serif" textLength="74.7" lengthAdjust="spacingAndGlyphs" >Dew Point / C</text>
<text x="312.3" y="400" font-size="11" fill="#0a0a0a" stroke="#0a0a0a" stroke-width="0.12" text-anchor="start" font-family="Liberation Sans, sans-serif" textLength="92" lengthAdjust="spacingAndGlyphs" >Temperature / C</text>
<text x="440.5" y="400" font-size="11" fill="#0a0a0a" stroke="#0a0a0a" stroke-width="0.12" text-anchor="start" font-family="Liberation Sans, sans-serif" textLength="69.5" lengthAdjust="spacingAndGlyphs" >Humidity / %</text>
<text x="545.2" y="400" font-size="11" fill="#0a0a0a" stroke="#0a0a0a" stroke-width="0.12" text-anchor="start" font-family="Liberation Sans, sans-serif" textLength="74.2" lengthAdjust="spacingAndGlyphs" >Rainfall / mm</text>
<text x="261.8" y="442" font-size="11" fill="#0a0a0a" stroke="#0a0a0a" stroke-width="0.12" text-anchor="start" font-family="Liberation Sans, sans-serif" textLength="269.2" lengthAdjust="spacingAndGlyphs" >Graph for: 13th August 2025; Load time: 0.06 s</text>
</g>
</svg>
</body></html>
